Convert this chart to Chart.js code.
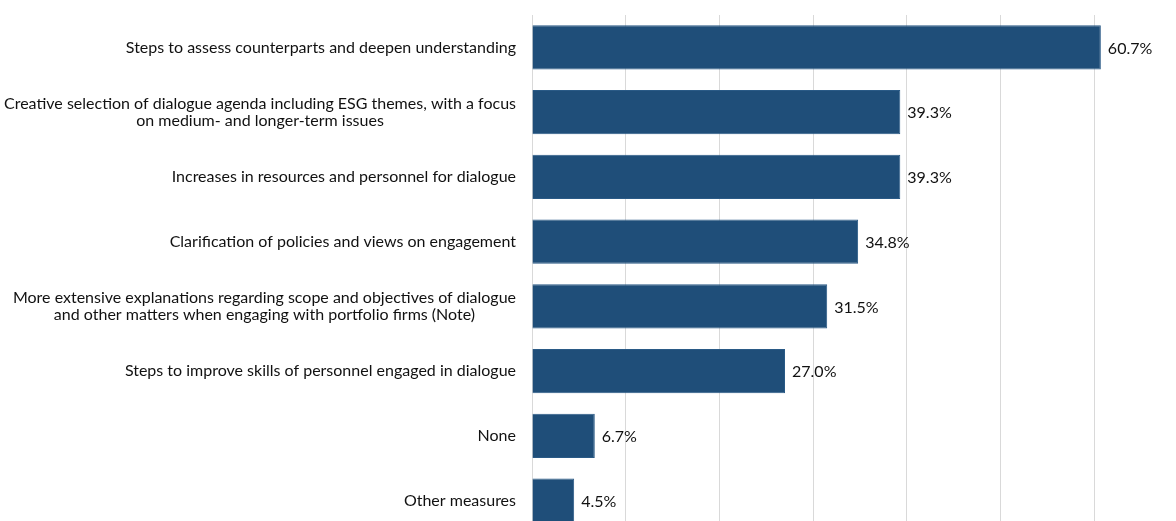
<!DOCTYPE html>
<html>
<head>
<meta charset="utf-8">
<script src="https://cdn.jsdelivr.net/npm/chart.js@4"></script>
<style>
  html, body { margin: 0; padding: 0; overflow: hidden; background: #fff; }
  #wrap { position: absolute; left: 0; top: 0; width: 1200px; height: 533px; }
</style>
</head>
<body>
<div id="wrap"><canvas id="measures" width="1200" height="533"></canvas></div>
<script>
// survey answers, top to bottom
const categories = [
  "Steps to assess counterparts and deepen understanding",
  ["Creative selection of dialogue agenda including ESG themes, with a focus", "on medium- and longer-term issues"],
  "Increases in resources and personnel for dialogue",
  "Clarification of policies and views on engagement",
  ["More extensive explanations regarding scope and objectives of dialogue", "and other matters when engaging with portfolio firms (Note)"],
  "Steps to improve skills of personnel engaged in dialogue",
  "None",
  "Other measures"
];
const shares = [60.7, 39.3, 39.3, 34.8, 31.5, 27.0, 6.7, 4.5];

const labelFont = "Lato, 'Open Sans', sans-serif";
const textColor = "#111";

// prints the percentage just past the end of each bar
const valueLabels = {
  id: "valueLabels",
  afterDatasetsDraw(chart) {
    const ctx = chart.ctx;
    const meta = chart.getDatasetMeta(0);
    ctx.save();
    ctx.font = "16px " + labelFont;
    ctx.fillStyle = textColor;
    ctx.textAlign = "left";
    ctx.textBaseline = "middle";
    meta.data.forEach((bar, i) => {
      ctx.fillText(shares[i].toFixed(1) + "%", bar.x + 7, bar.y + 1);
    });
    ctx.restore();
  }
};

// category labels: block right-aligned to the axis, wrapped lines centred in the block
const categoryLabels = {
  id: "categoryLabels",
  afterDraw(chart) {
    const ctx = chart.ctx;
    const y = chart.scales.y;
    const rightEdge = y.right - 16;
    const lineH = 17;
    ctx.save();
    ctx.font = "16px " + labelFont;
    ctx.fillStyle = textColor;
    ctx.textAlign = "center";
    ctx.textBaseline = "middle";
    categories.forEach((label, i) => {
      const lines = Array.isArray(label) ? label : [label];
      const w = Math.max(...lines.map((l) => ctx.measureText(l).width));
      const cx = rightEdge - w / 2;
      const cy = y.getPixelForTick(i);
      const top = cy - ((lines.length - 1) * lineH) / 2;
      lines.forEach((l, k) => ctx.fillText(l, cx, top + k * lineH));
    });
    ctx.restore();
  }
};

new Chart(document.getElementById("measures"), {
  type: "bar",
  data: {
    labels: categories,
    datasets: [
      {
        data: shares,
        backgroundColor: "#1F4E79",
        borderColor: "#2A5A86",
        borderWidth: 1,
        categoryPercentage: 1,
        barPercentage: 0.68,
      },
    ],
  },
  options: {
    indexAxis: "y",
    responsive: false,
    animation: false,
    layout: {
      padding: { left: 0, right: 12, top: 15, bottom: 0 },
    },
    plugins: {
      legend: { display: false },
      tooltip: { enabled: false },
    },
    scales: {
      x: {
        min: 0,
        max: 70,
        ticks: { display: false, stepSize: 10 },
        grid: { color: "#d9d9d9", lineWidth: 1, drawTicks: false },
        border: { display: false },
      },
      y: {
        afterFit(scale) {
          scale.width = 532;
          scale.paddingTop = 0;
          scale.paddingBottom = 0;
        },
        ticks: { display: false },
        grid: { display: false, drawTicks: false },
        border: { display: false },
      },
    },
  },
  plugins: [valueLabels, categoryLabels],
});
</script>
</body>
</html>
